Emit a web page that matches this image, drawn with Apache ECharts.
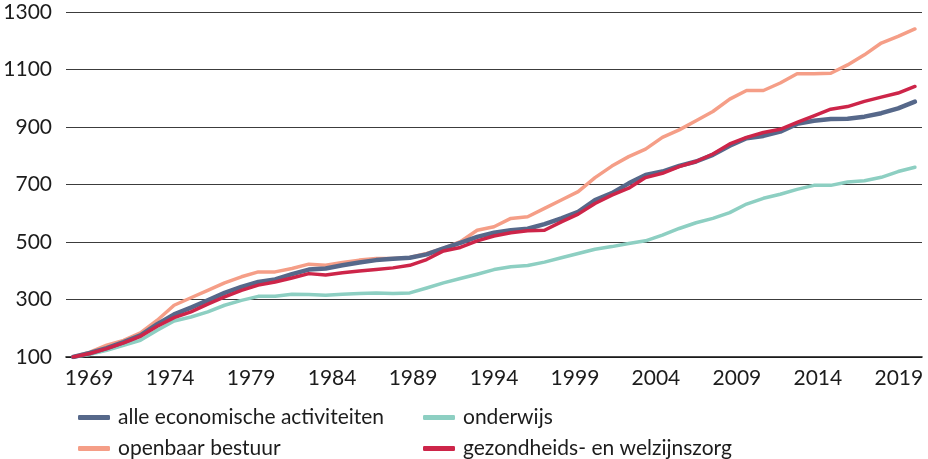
<!DOCTYPE html>
<html>
<head>
<meta charset="utf-8">
<script src="https://cdn.jsdelivr.net/npm/echarts@6/dist/echarts.min.js"></script>
<style>
  html, body { margin: 0; padding: 0; background: #fff; }
  #chart { width: 928px; height: 459px; }
</style>
</head>
<body>
<div id="chart"></div>
<script>
// Yearly index values (start = 100)
const years = [
  1969, 1970, 1971, 1972, 1973, 1974, 1975, 1976, 1977, 1978,
  1979, 1980, 1981, 1982, 1983, 1984, 1985, 1986, 1987, 1988,
  1989, 1990, 1991, 1992, 1993, 1994, 1995, 1996, 1997, 1998,
  1999, 2000, 2001, 2002, 2003, 2004, 2005, 2006, 2007, 2008,
  2009, 2010, 2011, 2012, 2013, 2014, 2015, 2016, 2017, 2018, 2019
];

const alleEconomisch = [
  100, 114, 131, 152, 175, 214, 248, 272, 297, 323,
  344, 361, 370, 388, 404, 408, 419, 429, 437, 442,
  445, 457, 478, 497, 518, 532, 541, 546, 562, 582,
  605, 646, 670, 704, 733, 745, 765, 780, 803, 835,
  861, 869, 884, 911, 922, 928, 929, 936, 948, 965, 988
];

const onderwijs = [
  100, 109, 123, 141, 158, 193, 225, 239, 257, 280,
  297, 311, 311, 318, 317, 315, 318, 321, 323, 321,
  323, 340, 358, 373, 388, 404, 414, 418, 430, 445,
  460, 475, 484, 495, 504, 524, 547, 567, 582, 602,
  632, 652, 666, 683, 697, 697, 709, 713, 725, 745, 760
];

const openbaarBestuur = [
  100, 117, 141, 158, 184, 228, 280, 306, 332, 358,
  379, 396, 396, 408, 423, 419, 429, 437, 443, 443,
  446, 460, 478, 501, 541, 553, 582, 588, 617, 646,
  675, 724, 764, 797, 823, 864, 890, 922, 954, 997,
  1027, 1027, 1053, 1085, 1085, 1087, 1116, 1151, 1192, 1215, 1241
];

const gezondheidszorg = [
  100, 112, 129, 149, 172, 207, 237, 257, 284, 309,
  332, 350, 361, 375, 390, 385, 393, 399, 404, 410,
  419, 439, 469, 481, 504, 521, 532, 539, 541, 570,
  597, 634, 663, 687, 724, 739, 762, 780, 806, 841,
  864, 881, 892, 916, 939, 962, 971, 989, 1004, 1018, 1041
];

const yearLabels = [1969, 1974, 1979, 1984, 1989, 1994, 1999, 2004, 2009, 2014, 2019];

const seriesNames = {
  alle: 'alle economische activiteiten',
  onderwijs: 'onderwijs',
  openbaar: 'openbaar bestuur',
  zorg: 'gezondheids- en welzijnszorg'
};

const colors = {
  alle: '#56688a',
  onderwijs: '#8dcfc2',
  openbaar: '#f59e87',
  zorg: '#cd2549'
};

const pairs = vals => years.map((y, i) => [y, vals[i]]);

const fontFamily = 'Lato, "Noto Sans", sans-serif';
const textColor = '#1c1c1c';

const chart = echarts.init(document.getElementById('chart'), null, { renderer: 'canvas' });

function lineSeries(key, values, width) {
  return {
    name: seriesNames[key],
    type: 'line',
    xAxisIndex: 0,
    data: pairs(values),
    showSymbol: false,
    symbol: 'none',
    lineStyle: { color: colors[key], width: width, join: 'round', cap: 'round' },
    itemStyle: { color: colors[key] },
    animation: false
  };
}

// two-column legend: each column is its own vertical legend
const legendBase = {
  orient: 'vertical',
  top: 407,
  height: 52,
  padding: 0,
  itemWidth: 32,
  itemHeight: 5,
  itemGap: 10,
  icon: 'roundRect',
  textStyle: {
    fontFamily: fontFamily,
    fontSize: 21,
    lineHeight: 21,
    color: textColor,
    padding: [0, 0, 0, 3]
  }
};

chart.setOption({
  backgroundColor: '#ffffff',
  animation: false,
  grid: { left: 66, right: 6, top: 12, bottom: 102, containLabel: false },
  legend: [
    Object.assign({}, legendBase, { left: 78, data: [seriesNames.alle, seriesNames.openbaar] }),
    Object.assign({}, legendBase, { left: 423, data: [seriesNames.onderwijs, seriesNames.zorg] })
  ],
  xAxis: [
    {
      // data axis
      type: 'value',
      min: years[0] - 0.42,
      max: years[years.length - 1] + 0.42,
      position: 'bottom',
      axisLine: { show: true, lineStyle: { color: '#111', width: 1.6 } },
      axisTick: { show: false },
      axisLabel: { show: false },
      splitLine: { show: false }
    },
    {
      // year label axis
      type: 'value',
      min: 1967.57,
      max: 2020.43,
      position: 'bottom',
      axisLine: { show: false },
      axisTick: { show: false },
      splitLine: { show: false },
      axisLabel: {
        show: true,
        customValues: yearLabels,
        formatter: v => String(v),
        fontFamily: fontFamily,
        fontSize: 21,
        color: textColor,
        margin: 11
      }
    }
  ],
  yAxis: {
    type: 'value',
    min: 100,
    max: 1300,
    interval: 200,
    axisLine: { show: false },
    axisTick: { show: false },
    splitLine: { show: true, lineStyle: { color: '#3c3c3c', width: 1 } },
    axisLabel: {
      formatter: v => String(v),
      fontFamily: fontFamily,
      fontSize: 21,
      color: textColor,
      margin: 14,
      padding: [5, 0, 0, 0]
    }
  },
  series: [
    lineSeries('onderwijs', onderwijs, 3.5),
    lineSeries('openbaar', openbaarBestuur, 3.5),
    lineSeries('alle', alleEconomisch, 4.5),
    lineSeries('zorg', gezondheidszorg, 3.5)
  ]
});
</script>
</body>
</html>
